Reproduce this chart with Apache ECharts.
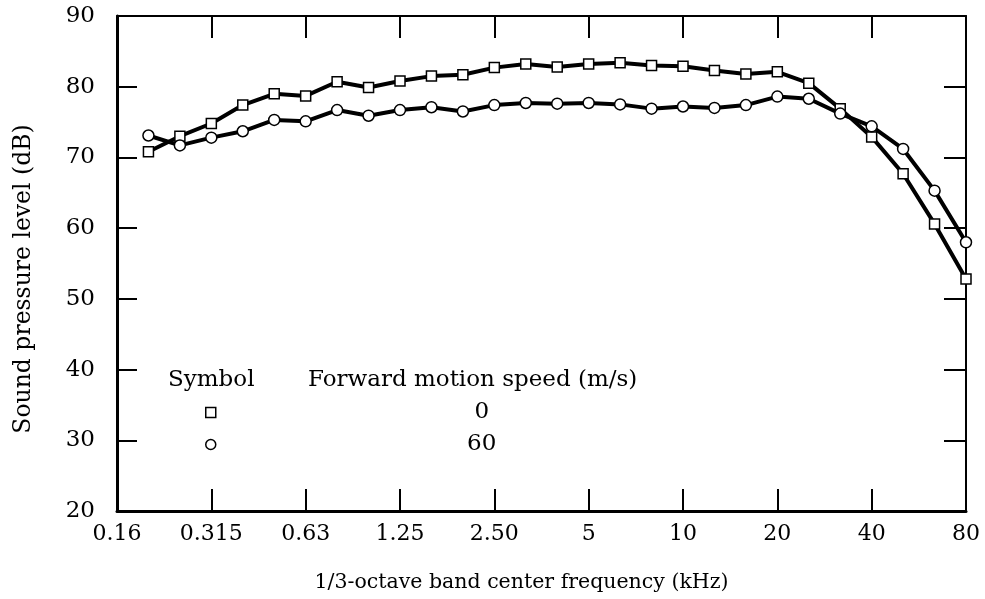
<!DOCTYPE html>
<html>
<head>
<meta charset="utf-8">
<script src="https://cdn.jsdelivr.net/npm/echarts@6/dist/echarts.min.js"></script>
<style>html,body{margin:0;padding:0;background:#fff}#c{width:985px;height:599px}</style>
</head>
<body>
<div id="c"></div>
<script>
var categories = ['0.16','0.2','0.25','0.315','0.4','0.5','0.63','0.8','1','1.25','1.6','2','2.5','3.15','4','5','6.3','8','10','12.5','16','20','25','31.5','40','50','63','80'];
var tickLabels = ['0.16','0.315','0.63','1.25','2.50','5','10','20','40','80'];
var speed0 = [null,70.8,73.0,74.8,77.4,79.0,78.7,80.7,79.9,80.8,81.5,81.7,82.7,83.2,82.8,83.2,83.4,83.0,82.9,82.3,81.8,82.1,80.5,76.9,72.9,67.7,60.6,52.8];
var speed60 = [null,73.1,71.7,72.8,73.7,75.3,75.1,76.7,75.9,76.7,77.1,76.5,77.4,77.7,77.6,77.7,77.5,76.9,77.2,77.0,77.4,78.6,78.3,76.2,74.4,71.2,65.3,58.0];
var legendNames = ['0','60'];

var FONT = 'DejaVu Serif';
var chart = echarts.init(document.getElementById('c'), null, {renderer:'canvas'});
function octave(i){ return i % 3 === 0; }
var xBase = {
  type:'category', data:categories, boundaryGap:false,
  axisLine:{show:true, onZero:false, lineStyle:{color:'#000', width:3}},
  splitLine:{show:false}
};
chart.setOption({
  animation:false,
  backgroundColor:'#fff',
  grid:{left:117, right:19, top:16, bottom:88, containLabel:false},
  xAxis:[
    Object.assign({}, xBase, {
      position:'bottom',
      axisTick:{show:true, inside:true, length:22, interval:function(i){return octave(i);}, lineStyle:{color:'#000', width:2}},
      axisLabel:{show:true, interval:function(i){return octave(i);}, margin:12, color:'#000', fontFamily:FONT, fontSize:22,
        formatter:function(v, i){ return tickLabels[Math.round(i/3)]; }},
      name:'1/3-octave band center frequency (kHz)', nameLocation:'middle', nameGap:61,
      nameTextStyle:{color:'#000', fontFamily:FONT, fontSize:20.5, padding:[0,40,0,0]}
    }),
    Object.assign({}, xBase, {
      position:'top',
      axisLine:{show:true, onZero:false, lineStyle:{color:'#000', width:2}},
      axisTick:{show:true, inside:true, length:22, interval:function(i){return octave(i);}, lineStyle:{color:'#000', width:2}},
      axisLabel:{show:false}
    })
  ],
  yAxis:[
    {type:'value', min:20, max:90, interval:10, position:'left',
     axisLine:{show:true, lineStyle:{color:'#000', width:3}},
     axisTick:{show:true, inside:true, length:20, lineStyle:{color:'#000', width:2}},
     axisLabel:{color:'#000', fontFamily:FONT, fontSize:23, margin:22},
     splitLine:{show:false},
     name:'Sound pressure level (dB)', nameLocation:'middle', nameGap:81, nameRotate:90,
     nameTextStyle:{color:'#000', fontFamily:FONT, fontSize:23.5, padding:[0,31,0,0]}},
    {type:'value', min:20, max:90, interval:10, position:'right',
     axisLine:{show:true, lineStyle:{color:'#000', width:2}},
     axisTick:{show:true, inside:true, length:22, lineStyle:{color:'#000', width:2}},
     axisLabel:{show:false}, splitLine:{show:false}}
  ],
  legend:{
    show:true, orient:'vertical', left:200, top:396, itemWidth:10, itemHeight:10, itemGap:9,
    selectedMode:false,
    data:[{name:legendNames[0], icon:'rect'},{name:legendNames[1], icon:'circle'}],
    itemStyle:{color:'#fff', borderColor:'#000', borderWidth:1.5},
    lineStyle:{width:0},
    formatter:function(n){ return '{a|' + n + '}'; },
    textStyle:{rich:{a:{width:522, align:'center', fontFamily:FONT, fontSize:23, lineHeight:23, color:'#000'}}}
  },
  graphic:[
    {type:'text', left:168, top:369, style:{text:'Symbol', fontFamily:FONT, fontSize:23, fill:'#000'}},
    {type:'text', left:308, top:369, style:{text:'Forward motion speed (m/s)', fontFamily:FONT, fontSize:23, fill:'#000'}}
  ],
  series:[
    {name:legendNames[0], type:'line', data:speed0, symbol:'rect', symbolSize:10, showAllSymbol:true,
     lineStyle:{color:'#000', width:4}, itemStyle:{color:'#fff', borderColor:'#000', borderWidth:1.5}, z:3},
    {name:legendNames[1], type:'line', data:speed60, symbol:'circle', symbolSize:11, showAllSymbol:true,
     lineStyle:{color:'#000', width:4}, itemStyle:{color:'#fff', borderColor:'#000', borderWidth:1.5}, z:3}
  ]
});
</script>
</body>
</html>
